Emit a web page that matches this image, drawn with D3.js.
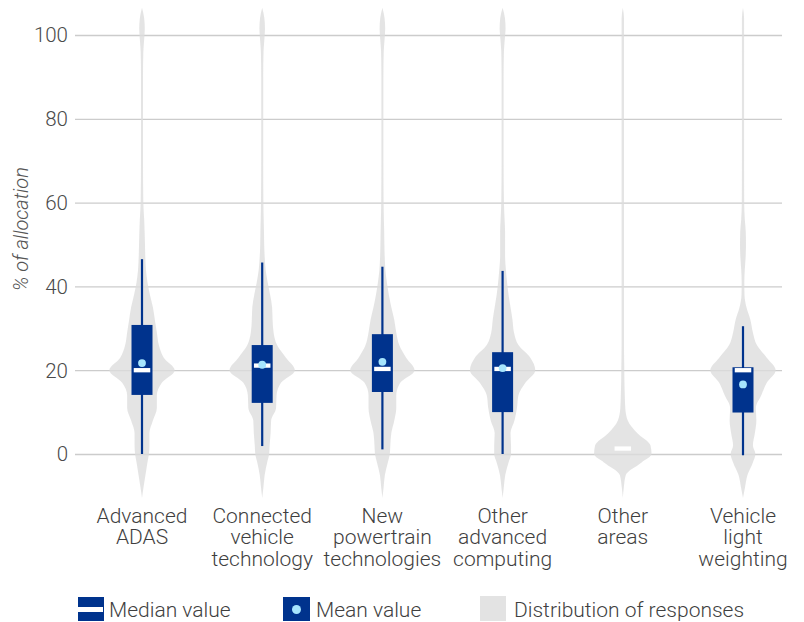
<!DOCTYPE html>
<html>
<head>
<meta charset="utf-8">
<script src="https://cdn.jsdelivr.net/npm/d3@7"></script>
<style>
  html, body { margin: 0; padding: 0; background: #fff; }
  svg { display: block; font-family: Roboto, "Liberation Sans", Arial, sans-serif; font-weight: 300; }
</style>
</head>
<body>
<svg id="chart" width="804" height="622"></svg>
<script>
// ---------------- DATA ----------------
const categories = ["Advanced ADAS", "Connected vehicle technology", "New powertrain technologies",
  "Other advanced computing", "Other areas", "Vehicle light weighting"];
const categoryLines = [["Advanced", "ADAS"], ["Connected", "vehicle", "technology"],
  ["New", "powertrain", "technologies"], ["Other", "advanced", "computing"],
  ["Other", "areas"], ["Vehicle", "light", "weighting"]];

const yTicks = [0, 20, 40, 60, 80, 100];

// box-plot statistics (% of allocation)
const whiskerLow  = [0, 1.9, 1.1, 0, null, -0.3];
const whiskerHigh = [46.5, 45.7, 44.7, 43.7, null, 30.5];
const q1          = [14.1, 12.2, 14.8, 10.0, null, 9.9];
const q3          = [30.8, 26.0, 28.6, 24.3, null, 20.7];
const medians     = [20.0, 21.1, 20.3, 20.3, 1.3, 20.0];
const means       = [21.7, 21.3, 22.0, 20.5, null, 16.6];

// kernel density of responses (relative units) at these allocation levels
const densityLevels = [-10.5, -8, -5, -2, 0, 2, 5, 8, 11, 14, 17, 20, 23, 26, 29, 32, 35, 38, 41, 44,
  47, 50, 53, 56, 60, 70, 80, 90, 96, 99, 101.5, 104, 106.5];
const densityADAS = [0, 4.5, 10.5, 16.5, 21, 22.5, 22.5, 33, 45, 45, 60, 99, 66, 51, 45, 39, 33, 24, 16.5, 12,
  10, 9, 8, 6.6, 4, 3, 3, 3, 4, 6.6, 8.4, 6.6, 0];
const densityConnected = [0, 3.6, 7.5, 15, 21, 22.5, 25.5, 27, 42, 43.5, 57, 99, 72, 45, 34.5, 31.5, 30, 24, 16.5, 10.5,
  7.5, 6, 5.4, 4.5, 3.6, 3, 3, 3, 4, 6.6, 8.4, 6.6, 0];
const densityPowertrain = [0, 3.6, 7.5, 16.5, 22.5, 24, 27, 36, 42, 42, 54, 97.5, 72, 51, 42, 36, 27, 19.5, 13.5, 9,
  7, 6, 5.4, 4.5, 3.6, 3, 3, 3, 4, 6.6, 8.4, 6.6, 0];
const densityComputing = [0, 3.6, 8, 18, 25.5, 25.5, 24, 36, 43.5, 48, 69, 99, 84, 48, 34.5, 30, 24, 18, 13.5, 10,
  7.5, 7.5, 7.5, 6, 4, 3, 3, 3, 4, 6.6, 9, 7.2, 0];
const densityOther = [0, 3, 9, 57, 87, 84, 43.5, 15, 7.5, 6, 5, 4.5, 4, 3.6, 3.6, 3.6, 3.6, 3.6, 3.6, 3.6,
  3.6, 3.6, 3.6, 3.6, 3.6, 3.6, 3.6, 3.6, 3.6, 3.6, 3.6, 3.6, 0];
const densityWeighting = [0, 6, 13.5, 30, 37.5, 30, 36, 40.5, 39, 55.5, 72, 99, 72, 42, 30, 22.5, 10.5, 4.5, 4, 5.4,
  8, 9, 8.4, 5.4, 3.6, 3.3, 3.3, 3.3, 3.3, 3.3, 3.3, 3.3, 0];
const densities = [densityADAS, densityConnected, densityPowertrain, densityComputing, densityOther, densityWeighting];

const legendLabels = ["Median value", "Mean value", "Distribution of responses"];

// ---------------- STYLE ----------------
const NAVY = "#00338d", MEAN = "#a6e5fd", VIOLIN = "#dcdcdc", GRID = "#cccccc", TEXT = "#3f3f3f";
const FONT = "Roboto, 'Liberation Sans', Arial, sans-serif";

// ---------------- CHART ----------------
const svg = d3.select("#chart");
const y = d3.scaleLinear().domain([0, 100]).range([454, 35]);
const x = d3.scalePoint().domain(categories).range([142, 743]);
const w = d3.scaleLinear().domain([0, 100]).range([0, 33]);

// gridlines
const gridX0 = 75, gridX1 = 782;
svg.append("g")
  .attr("transform", `translate(${gridX0},0)`)
  .call(d3.axisLeft(y).tickValues(yTicks).tickSize(-(gridX1 - gridX0)).tickFormat(""))
  .call(g => g.select(".domain").remove())
  .call(g => g.selectAll("line").attr("stroke", GRID).attr("stroke-width", 1.3));

// y tick labels
svg.append("g")
  .attr("transform", "translate(68,0)")
  .call(d3.axisLeft(y).tickValues(yTicks).tickSize(0).tickPadding(0))
  .call(g => g.select(".domain").remove())
  .call(g => g.selectAll("text").attr("fill", "#4a4a4a").style("font-size", "20.5px")
    .style("font-family", FONT).style("font-weight", 300).attr("dy", "0.34em"));

// y axis title
svg.append("text")
  .attr("transform", `translate(28,${229}) rotate(-90)`)
  .attr("text-anchor", "middle")
  .attr("fill", "#555")
  .style("font-size", "20px")
  .style("font-style", "italic")
  .text("% of allocation");

// violins
const area = d3.area()
  .y((d, i) => y(densityLevels[i]))
  .curve(d3.curveMonotoneY);

const groups = svg.append("g").selectAll("g.cat")
  .data(categories).join("g").attr("class", "cat");

groups.append("path")
  .attr("d", (c, ci) => area
    .x0(d => x(c) - w(d))
    .x1(d => x(c) + w(d))(densities[ci]))
  .attr("fill", VIOLIN)
  .attr("fill-opacity", 0.78);

// whiskers
groups.filter((c, i) => whiskerLow[i] !== null)
  .append("line")
  .attr("x1", c => x(c)).attr("x2", c => x(c))
  .attr("y1", (c) => y(whiskerLow[categories.indexOf(c)]))
  .attr("y2", (c) => y(whiskerHigh[categories.indexOf(c)]))
  .attr("stroke", NAVY).attr("stroke-width", 2.2);

// boxes
const boxW = 21;
groups.filter((c, i) => q1[i] !== null)
  .append("rect")
  .attr("x", c => x(c) - boxW / 2)
  .attr("width", boxW)
  .attr("y", c => y(q3[categories.indexOf(c)]))
  .attr("height", c => y(q1[categories.indexOf(c)]) - y(q3[categories.indexOf(c)]))
  .attr("fill", NAVY);

// medians
const medW = 16.5, medH = 4.3;
groups.append("rect")
  .attr("x", c => x(c) - medW / 2)
  .attr("width", medW)
  .attr("y", c => y(medians[categories.indexOf(c)]) - medH / 2)
  .attr("height", medH)
  .attr("fill", "#ffffff");

// means
groups.filter((c, i) => means[i] !== null)
  .append("circle")
  .attr("cx", c => x(c))
  .attr("cy", c => y(means[categories.indexOf(c)]))
  .attr("r", 3.9)
  .attr("fill", MEAN);

// category labels
const lab = svg.append("g").selectAll("text")
  .data(categories).join("text")
  .attr("text-anchor", "middle")
  .attr("fill", TEXT)
  .style("font-size", "21px")
  .attr("transform", c => `translate(${x(c)},522.7)`);
lab.selectAll("tspan")
  .data((c, i) => categoryLines[i])
  .join("tspan")
  .attr("x", 0)
  .attr("y", (d, j) => j * 21.5)
  .text(d => d);

// legend
const leg = svg.append("g");
const iconY = 597, iconH = 24, iconW = 26, textBase = 616.5;
// median
leg.append("rect").attr("x", 78).attr("y", iconY).attr("width", iconW).attr("height", iconH).attr("fill", NAVY);
leg.append("rect").attr("x", 78).attr("y", 607).attr("width", 25).attr("height", 5).attr("fill", "#fff");
// mean
leg.append("rect").attr("x", 283).attr("y", iconY).attr("width", 27).attr("height", iconH).attr("fill", NAVY);
leg.append("circle").attr("cx", 296.5).attr("cy", 609.5).attr("r", 4.5).attr("fill", MEAN);
// distribution
leg.append("rect").attr("x", 480).attr("y", 596).attr("width", iconW).attr("height", 25).attr("fill", "#e3e3e3");

const legTextX = [109, 316, 514];
leg.selectAll("text.lt").data(legendLabels).join("text")
  .attr("class", "lt")
  .attr("x", (d, i) => legTextX[i])
  .attr("y", textBase)
  .attr("fill", TEXT)
  .style("font-size", "21px")
  .text(d => d);
</script>
</body>
</html>
